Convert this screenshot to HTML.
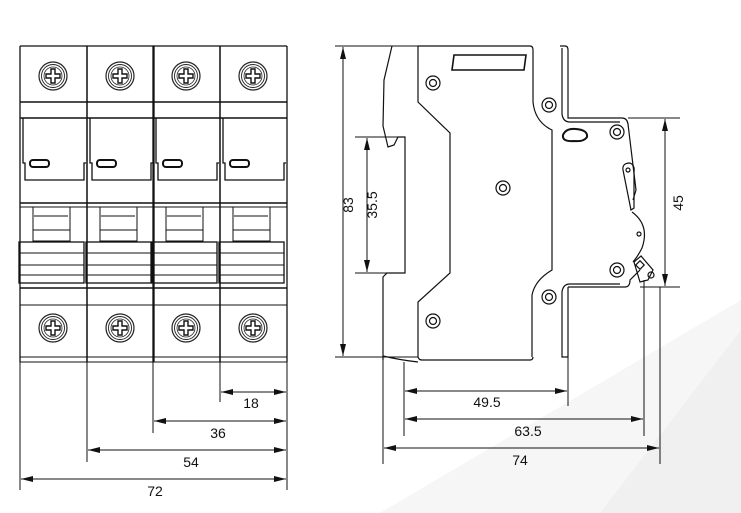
<!DOCTYPE html>
<html><head><meta charset="utf-8"><style>
html,body{margin:0;padding:0;background:#fff;width:741px;height:513px;overflow:hidden}
svg{display:block}
text{font-family:"Liberation Sans",sans-serif;font-size:14px;fill:#111}
</style></head><body>
<svg width="741" height="513" viewBox="0 0 741 513" xmlns="http://www.w3.org/2000/svg">
<defs>
<marker id="a" viewBox="0 0 12 6" refX="12" refY="3" markerWidth="12" markerHeight="6" orient="auto-start-reverse" markerUnits="userSpaceOnUse"><path d="M0,0L12,3L0,6z" fill="#111"/></marker>
<g id="screw"><circle r="14" fill="none" stroke="#222" stroke-width="1.2"/><circle r="11.5" fill="none" stroke="#222" stroke-width="0.9"/><circle r="9" fill="none" stroke="#222" stroke-width="0.8"/><path d="M-2,-7h4v5h5v4h-5v5h-4v-5h-5v-4h5z" fill="none" stroke="#111" stroke-width="1.4"/></g>
<g id="pole" fill="none" stroke="#111">
<line x1="0" y1="0" x2="0" y2="316" stroke-width="1.3"/>
<line x1="67" y1="0" x2="67" y2="316" stroke-width="1.3"/>
<line x1="0" y1="0" x2="67" y2="0" stroke-width="1.2"/>
<use href="#screw" x="33" y="30"/>
<line x1="0" y1="56" x2="67" y2="56" stroke-width="1.5"/>
<line x1="0" y1="72" x2="67" y2="72" stroke-width="1.5"/>
<path d="M3,72 V117 H5 V134 H64 V117 H66" stroke-width="1.3"/>
<rect x="10" y="114" width="19" height="7" rx="3" stroke-width="2"/>
<line x1="0" y1="157" x2="67" y2="157" stroke-width="1.5"/>
<line x1="0" y1="161" x2="67" y2="161" stroke-width="1"/>
<path d="M13,161 V195 H50 V161 M13,184 H50 M14,170 H48" stroke-width="1"/>
<rect x="-1" y="196" width="65" height="41" stroke-width="1.3"/>
<path d="M-1,207H64M-1,219H64M-1,229H64" stroke-width="1"/>
<line x1="0" y1="242" x2="67" y2="242" stroke-width="1.5"/>
<line x1="0" y1="259" x2="67" y2="259" stroke-width="1"/>
<use href="#screw" x="33" y="282"/>
<line x1="0" y1="311" x2="67" y2="311" stroke-width="1"/>
<line x1="0" y1="316" x2="67" y2="316" stroke-width="1"/>
</g>
</defs>
<polygon points="741,300 741,513 380,513" fill="#f6f6f6"/>
<polygon points="741,330 741,513 600,513" fill="#f0f0f0"/>
<use href="#pole" x="20" y="46"/>
<use href="#pole" x="87" y="46"/>
<use href="#pole" x="153" y="46"/>
<use href="#pole" x="220" y="46"/>
<g stroke="#111" stroke-width="1" fill="none">
<line x1="20" y1="362" x2="20" y2="490"/>
<line x1="87" y1="362" x2="87" y2="462"/>
<line x1="153" y1="362" x2="153" y2="433"/>
<line x1="220" y1="362" x2="220" y2="402"/>
<line x1="287" y1="362" x2="287" y2="490"/>
<line x1="221" y1="392" x2="286" y2="392" marker-start="url(#a)" marker-end="url(#a)"/>
<line x1="154" y1="421" x2="286" y2="421" marker-start="url(#a)" marker-end="url(#a)"/>
<line x1="88" y1="450" x2="286" y2="450" marker-start="url(#a)" marker-end="url(#a)"/>
<line x1="21" y1="479" x2="286" y2="479" marker-start="url(#a)" marker-end="url(#a)"/>
</g>
<text x="251" y="408" text-anchor="middle">18</text>
<text x="218" y="438" text-anchor="middle">36</text>
<text x="191" y="467" text-anchor="middle">54</text>
<text x="155" y="496" text-anchor="middle">72</text>
<g stroke="#111" fill="none" stroke-width="1.2">
<line x1="335" y1="46" x2="418" y2="46" stroke-width="1"/>
<line x1="335" y1="357" x2="418" y2="357" stroke-width="1"/>
<line x1="343" y1="47" x2="343" y2="356" marker-start="url(#a)" marker-end="url(#a)" stroke-width="1"/>
<line x1="355" y1="137" x2="405" y2="137" stroke-width="1"/>
<line x1="355" y1="273" x2="405" y2="273" stroke-width="1"/>
<line x1="367" y1="138" x2="367" y2="272" marker-start="url(#a)" marker-end="url(#a)" stroke-width="1"/>
<path d="M392,46 L384,80 L383,126 L388,147 L394,145 L398,137 H405 V273 H387 L383,277 V360"/>
<path d="M383,356 Q400,360 418,362"/>
<path d="M418,46 V102 L450,133 V273 L418,302 V357 Q419,360 422,360 H530 Q533,360 533,357"/>
<path d="M418,46 H530 Q533,46 533,50 V102 Q535,122 552,130 V270 Q535,280 532,295 V357"/>
<path d="M560,46 H565 Q568,46 568,50 V118 H622 Q627,118 628,124 L636,190 L633,200"/>
<path d="M562,48 V114 Q563,122 570,122 H620"/>
<path d="M568,287 H625 Q630,287 630,280 L640,270"/>
<path d="M562,292 V357 H568 V287"/>
<path d="M562,292 Q563,284 570,284 H620"/>
<path d="M452,70 L454,55 H526 L524,70 Z" stroke-width="1.6"/>
<circle cx="433" cy="83" r="7"/><circle cx="433" cy="83" r="3.5"/>
<circle cx="549" cy="105" r="7"/><circle cx="549" cy="105" r="3.5"/>
<circle cx="617" cy="132" r="7"/><circle cx="617" cy="132" r="3.5"/>
<circle cx="503" cy="188" r="7"/><circle cx="503" cy="188" r="3.5"/>
<circle cx="617" cy="270" r="7"/><circle cx="617" cy="270" r="3.5"/>
<circle cx="549" cy="297" r="7"/><circle cx="549" cy="297" r="3.5"/>
<circle cx="433" cy="321" r="7"/><circle cx="433" cy="321" r="3.5"/>
<path d="M563,135 Q566,128 576,129 Q588,130 587,137 Q584,142 574,141 Q562,142 563,135 Z" stroke-width="2"/>
<path d="M623,170 Q622,163 630,163 Q635,165 634,172 L634,208 L631,210 Z"/>
<circle cx="628" cy="170" r="2"/>
<path d="M632,212 Q650,225 642,248 Q638,256 633,262"/>
<circle cx="639" cy="234" r="2"/>
<path d="M634,262 L641,256 L653,270 L648,280 L640,282 Z"/>
<rect x="637" y="262" width="6" height="6" transform="rotate(45 640 265)"/>
<circle cx="651" cy="275" r="3"/>
</g>
<g stroke="#111" stroke-width="1" fill="none">
<line x1="628" y1="118" x2="680" y2="118"/>
<line x1="640" y1="287" x2="680" y2="287"/>
<line x1="665" y1="119" x2="665" y2="286" marker-start="url(#a)" marker-end="url(#a)"/>
<line x1="404" y1="362" x2="404" y2="436"/>
<line x1="383" y1="360" x2="383" y2="464"/>
<line x1="568" y1="357" x2="568" y2="406"/>
<line x1="644" y1="280" x2="644" y2="436"/>
<line x1="660" y1="287" x2="660" y2="464"/>
<line x1="405" y1="391" x2="567" y2="391" marker-start="url(#a)" marker-end="url(#a)"/>
<line x1="405" y1="419" x2="643" y2="419" marker-start="url(#a)" marker-end="url(#a)"/>
<line x1="384" y1="448" x2="659" y2="448" marker-start="url(#a)" marker-end="url(#a)"/>
</g>
<text x="487" y="407" text-anchor="middle">49.5</text>
<text x="528" y="436" text-anchor="middle">63.5</text>
<text x="520" y="465" text-anchor="middle">74</text>
<text transform="translate(353,205) rotate(-90)" text-anchor="middle">83</text>
<text transform="translate(377,205) rotate(-90)" text-anchor="middle">35.5</text>
<text transform="translate(683,203) rotate(-90)" text-anchor="middle">45</text>
</svg>
</body></html>
